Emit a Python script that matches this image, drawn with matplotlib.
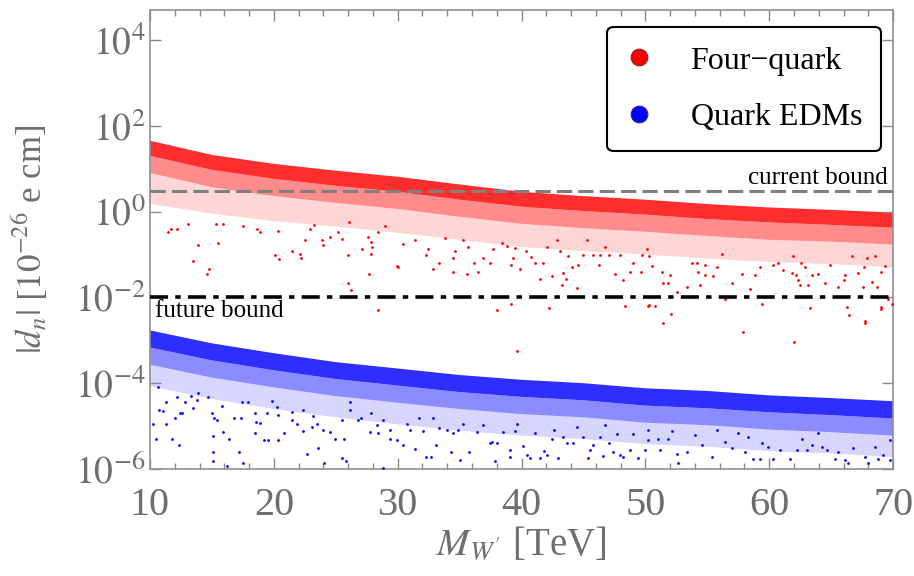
import matplotlib
matplotlib.use('Agg')
import matplotlib.pyplot as plt
from matplotlib.lines import Line2D

plt.rcParams['font.family'] = ['Liberation Serif', 'DejaVu Serif']
plt.rcParams['mathtext.fontset'] = 'stix'

# envelope of the dense part of each scan, read at these masses [TeV]
mass_grid = [10, 15, 20, 25, 30, 35, 40, 45, 50, 55, 60, 65, 70]

red_top = [45, 21, 13, 9, 6.5, 4.3, 2.9, 2.3, 1.9, 1.5, 1.25, 1.1, 0.95]
red_core_low = [20, 9.4, 5.8, 4.0, 2.9, 1.9, 1.3, 1.03, 0.85, 0.67, 0.56, 0.49, 0.42]
red_mid_low = [8, 3.7, 2.3, 1.6, 1.15, 0.76, 0.52, 0.41, 0.34, 0.27, 0.22, 0.2, 0.17]
red_outer_low = [1.5, 0.9, 0.6, 0.45, 0.32, 0.22, 0.15, 0.12, 0.1, 0.08, 0.067, 0.06, 0.05]

blue_top = [1.7e-3, 8.5e-4, 5e-4, 3.1e-4, 2.2e-4, 1.55e-4, 1.2e-4, 1.0e-4,
            7.6e-5, 6.6e-5, 5.2e-5, 4.5e-5, 3.8e-5]
blue_core_low = [6.8e-4, 3.4e-4, 2e-4, 1.25e-4, 8.8e-5, 6.2e-5, 4.8e-5, 4e-5,
                 3e-5, 2.6e-5, 2.1e-5, 1.8e-5, 1.5e-5]
blue_mid_low = [2.7e-4, 1.35e-4, 8e-5, 5e-5, 3.5e-5, 2.5e-5, 1.9e-5, 1.6e-5,
                1.2e-5, 1.05e-5, 8.3e-6, 7.2e-6, 6e-6]
blue_outer_low = [8.5e-5, 4.3e-5, 2.5e-5, 1.6e-5, 1.1e-5, 7.8e-6, 6e-6, 5e-6,
                  3.8e-6, 3.3e-6, 2.6e-6, 2.3e-6, 1.9e-6]

# sparse scan points below the dense bands (mass, |d_n|)
red_m = [11.48, 11.67, 12.15, 13.10, 13.50, 13.85, 14.58, 14.76, 15.52, 15.30, 15.87,
         17.54, 18.61, 18.88, 20.09, 20.31, 20.44, 21.44, 22.11, 22.17, 22.52, 22.92,
         23.27, 23.86, 24.00, 24.54, 25.21, 25.48, 26.02, 26.02, 26.20, 26.10, 27.15,
         27.63, 27.68, 27.85, 27.90, 27.82, 28.44, 28.98, 29.92, 30.05, 28.44,
         30.46, 31.40, 32.29, 32.48, 32.83, 33.37, 33.82, 34.50, 34.50, 34.63, 35.30,
         35.63, 35.71, 36.17, 36.52, 36.92, 37.46, 37.67, 37.99, 38.40, 38.80, 39.13,
         39.13, 39.34, 39.48, 39.88, 40.36, 40.74, 41.09, 41.50, 41.71, 42.03, 42.25,
         42.44, 42.84, 43.11, 43.24, 43.38, 43.57, 43.78, 44.11, 44.46, 44.59, 45.00,
         45.26, 45.75, 46.29, 46.34, 46.74, 47.09, 47.55, 47.96, 48.17, 48.76, 49.03,
         49.62, 49.70, 50.24, 48.36, 50.11,
         50.29, 50.56, 51.32, 51.45, 51.99, 52.07, 51.45, 51.85, 52.58, 53.33, 53.74,
         54.14, 54.28, 54.41, 54.82, 54.82, 55.49, 55.76, 56.22, 56.43, 57.02, 57.78,
         58.45, 58.85, 59.26, 59.39, 60.33, 60.74, 61.14, 61.81, 61.95, 62.14, 62.35,
         62.49, 62.57, 62.89, 63.16, 63.29, 63.43, 63.97, 64.51, 64.91, 65.53, 66.04,
         66.12, 66.26, 66.44, 66.66, 67.20, 67.60, 67.68, 67.74, 67.87, 68.27, 68.54,
         68.68, 69.00, 69.03, 69.35, 69.62, 69.94, 50.78, 50.29,
         39.6, 57.9, 62.0, 67.7, 69.05]
red_d = [0.33, 0.40, 0.40, 0.52, 0.072, 0.168, 0.035, 0.045, 0.19, 0.52, 0.52,
         0.46, 0.40, 0.33, 0.095, 0.36, 0.08, 0.12, 0.104, 0.082, 0.22, 0.40,
         0.49, 0.22, 0.168, 0.25, 0.33, 0.23, 0.095, 0.0215, 0.0146, 0.58, 0.135,
         0.25, 0.035, 0.20, 0.148, 0.104, 0.005, 0.46, 0.055, 0.05, 0.33,
         0.177, 0.223, 0.095, 0.135, 0.045, 0.064, 0.244, 0.040, 0.082, 0.12, 0.223,
         0.035, 0.153, 0.064, 0.040, 0.082, 0.064, 0.135, 0.005, 0.19, 0.162, 0.058,
         0.0071, 0.082, 0.14, 0.045, 0.12, 0.086, 0.064, 0.027, 0.064, 0.153, 0.0056,
         0.031, 0.22, 0.12, 0.019, 0.037, 0.027, 0.09, 0.05, 0.0168, 0.058, 0.095,
         0.223, 0.095, 0.058, 0.095, 0.153, 0.095, 0.035, 0.095, 0.025, 0.040, 0.064,
         0.040, 0.095, 0.0063, 0.0063, 0.135,
         0.091, 0.055, 0.040, 0.022, 0.034, 0.0040, 0.0025, 0.022, 0.0133, 0.0174, 0.064,
         0.064, 0.040, 0.019, 0.058, 0.0325, 0.031, 0.05, 0.104, 0.0093, 0.022, 0.035,
         0.016, 0.0325, 0.05, 0.0071, 0.058, 0.064, 0.0425, 0.038, 0.091, 0.0325, 0.025,
         0.019, 0.064, 0.05, 0.019, 0.0056, 0.0325, 0.035, 0.022, 0.058, 0.0174, 0.025,
         0.034, 0.006, 0.0038, 0.091, 0.037, 0.0174, 0.05, 0.0028, 0.082, 0.023, 0.091,
         0.0174, 0.040, 0.006, 0.055, 0.0093, 0.0071, 0.0062, 0.0066,
         5.5e-4, 1.6e-3, 8.9e-4, 2.6e-3, 5.5e-3]

blue_m = [10.67, 11.27, 10.75, 11.08, 10.48, 11.29, 11.80, 12.02, 12.37, 12.42, 12.56,
          12.15, 12.83, 13.28, 13.77, 13.90, 14.71, 14.98, 15.17, 15.38, 15.11, 15.11,
          15.11, 15.87, 15.79, 16.41, 16.25, 16.78, 17.16, 17.32, 17.54, 17.40, 17.94,
          18.48, 18.48, 18.56, 18.88, 19.23, 19.56, 19.42, 20.31, 20.36, 20.85, 21.44,
          21.84, 22.33, 22.65, 23.06, 23.19, 23.46, 23.59, 24.00, 24.05, 24.54, 24.94,
          25.48, 25.67, 25.48, 25.83, 26.15, 26.82, 27.01, 27.77, 27.82, 28.30, 28.44,
          28.79, 29.38, 29.92, 29.38, 28.84, 26.15, 22.38, 21.44, 20.23, 19.82, 13.50,
          10.27,
          30.46, 31.40, 31.00, 30.78, 31.75, 32.07, 32.29, 32.67, 32.88, 33.10, 33.37,
          33.96, 34.31, 34.44, 35.04, 34.90, 35.30, 35.76, 36.38, 36.92, 37.46, 37.86,
          38.00, 38.53, 39.07, 39.07, 39.48, 39.61, 40.10, 40.42, 40.69, 41.09, 41.50,
          41.82, 42.03, 42.44, 42.63, 42.98, 43.33, 43.65, 44.19, 44.46, 44.94, 45.40,
          45.53, 45.80, 46.34, 46.61, 46.74, 47.09, 47.42, 47.69, 47.96, 48.22, 48.76,
          49.03, 49.44, 49.97, 50.24, 37.59,
          50.24, 51.05, 51.18, 51.85, 52.12, 52.53, 52.66, 53.33, 54.01, 54.55, 55.35,
          56.43, 57.02, 58.05, 58.31, 58.72, 59.26, 59.39, 59.93, 60.33, 60.87, 61.68,
          62.22, 62.62, 63.03, 63.43, 64.24, 64.64, 65.31, 65.58, 66.12, 66.39, 66.79,
          67.74, 68.01, 68.81, 69.22, 69.75, 69.75, 68.54, 63.97, 57.51, 55.76]
blue_logd = [-4.10, -4.43, -4.63, -4.65, -5.29, -4.96, -5.29, -4.80, -5.44, -4.69, -4.70,
             -4.32, -4.43, -4.30, -4.40, -4.24, -4.32, -4.69, -4.82, -4.86, -5.23, -5.60,
             -5.81, -5.13, -4.53, -5.29, -5.92, -4.80, -5.60, -4.81, -5.87, -4.43, -4.45,
             -5.17, -4.70, -4.90, -4.92, -5.33, -5.33, -4.70, -5.33, -4.74, -5.17, -4.86,
             -4.95, -5.11, -5.65, -5.02, -4.77, -4.94, -5.50, -5.08, -5.87, -5.13, -5.29,
             -4.86, -5.29, -5.75, -5.81, -4.63, -4.86, -4.82, -5.13, -4.70, -4.98, -5.17,
             -5.98, -5.29, -5.33, -5.08, -4.86, -4.43, -4.63, -4.66, -4.55, -4.41, -4.59,
             -4.96,
             -5.44, -5.54, -5.08, -4.94, -4.82, -5.11, -5.71, -5.71, -4.82, -5.44, -5.05,
             -5.08, -5.60, -5.17, -5.79, -5.09, -4.94, -5.60, -5.13, -4.98, -5.39, -5.81,
             -5.39, -5.13, -5.71, -5.56, -5.11, -4.94, -5.47, -5.67, -5.75, -5.17, -5.75,
             -5.57, -5.67, -5.29, -5.09, -5.75, -5.26, -5.40, -5.39, -5.02, -5.26, -5.75,
             -5.56, -5.44, -5.26, -5.70, -4.98, -5.39, -5.60, -5.19, -5.67, -5.71, -5.56,
             -5.19, -5.75, -5.56, -5.09, -5.37,
             -5.33, -5.29, -5.56, -5.29, -5.11, -5.65, -5.87, -5.60, -5.21, -5.44, -5.71,
             -5.37, -5.52, -5.60, -5.25, -5.77, -5.76, -5.40, -5.48, -5.77, -5.56, -5.76,
             -5.56, -5.31, -5.56, -5.44, -5.48, -5.56, -5.76, -5.60, -5.79, -5.85, -5.52,
             -5.71, -5.87, -5.77, -5.67, -5.79, -5.33, -5.48, -5.17, -5.17, -5.09]

current_bound = 3.0
future_bound = 1e-2
x_ticks = [10, 20, 30, 40, 50, 60, 70]
y_ticks = [1e-6, 1e-4, 1e-2, 1e0, 1e2, 1e4]
y_ticklabels = [r'$10^{-6}$', r'$10^{-4}$', r'$10^{-2}$', r'$10^{0}$', r'$10^{2}$', r'$10^{4}$']

RED = '#ff0000'
BLUE = '#0000ff'
GRAY = '#6e6e6e'

fig = plt.figure(figsize=(9.14, 5.76), dpi=100)
ax = fig.add_axes([0.1641, 0.1858, 0.8130, 0.7968])
ax.set_yscale('log')

# dense bands, drawn as layers of decreasing density
for top, core, mid, outer, col in [(red_top, red_core_low, red_mid_low, red_outer_low, RED),
                                   (blue_top, blue_core_low, blue_mid_low, blue_outer_low, BLUE)]:
    ax.fill_between(mass_grid, outer, mid, facecolor=col, alpha=0.16, lw=0)
    ax.fill_between(mass_grid, mid, core, facecolor=col, alpha=0.45, lw=0)
    ax.fill_between(mass_grid, core, top, facecolor=col, alpha=0.82, lw=0)

# sparse points
ax.scatter(red_m, red_d, s=4, c=RED, linewidths=0, zorder=3)
ax.scatter(blue_m, [10 ** v for v in blue_logd], s=4, c=BLUE, linewidths=0, zorder=3)

# bounds
ax.axhline(current_bound, color='#808080', lw=2.2, ls=(0, (5, 2)), zorder=4)
ax.axhline(future_bound, color='black', lw=2.6, ls=(0, (5, 2, 1.5, 2)), zorder=4)
ax.text(69.6, current_bound * 1.12, 'current bound', ha='right', va='bottom', fontsize=18)
ax.text(10.4, future_bound / 1.15, 'future bound', ha='left', va='top', fontsize=18)

ax.set_xlim(10, 70)
ax.set_ylim(1e-6, 10 ** 4.7)
ax.set_xticks(x_ticks)
ax.set_xticklabels([str(v) for v in x_ticks])
ax.set_xticks(range(10, 71, 2), minor=True)
ax.set_yticks(y_ticks)
ax.set_yticklabels(y_ticklabels)
ax.yaxis.set_minor_locator(matplotlib.ticker.NullLocator())
ax.tick_params(which='both', direction='in', top=True, right=True, colors='#888888',
               labelcolor=GRAY)
ax.tick_params(axis='y', labelsize=27, pad=3)
ax.tick_params(axis='x', labelsize=29, pad=13)
ax.tick_params(which='major', length=8, width=1)
ax.tick_params(which='minor', length=4, width=1)
for sp in ax.spines.values():
    sp.set_color('#909090')
    sp.set_linewidth(1.2)

ax.set_xlabel(r"$M_{W^{\prime}}$ [TeV]", fontsize=28, color=GRAY, labelpad=2)
ax.set_ylabel(r'$|d_n|\ [10^{-26}$ e cm]', fontsize=25, color=GRAY)
ax.yaxis.set_label_coords(-0.135, 0.5)

handles = [Line2D([], [], ls='none', marker='o', ms=12, mfc=RED, mec='#7a2a2a', mew=0.8),
           Line2D([], [], ls='none', marker='o', ms=12, mfc=BLUE, mec='#2a2a7a', mew=0.8)]
leg = ax.legend(handles, ['Four\u2212quark', 'Quark EDMs'], loc='upper right',
                bbox_to_anchor=(0.984, 0.963), fontsize=23, frameon=True, fancybox=True,
                borderpad=0.6, labelspacing=0.85, handlelength=0.8, handletextpad=1.2,
                borderaxespad=0)
leg.get_frame().set_edgecolor('black')
leg.get_frame().set_linewidth(1.5)
leg.get_frame().set_alpha(1)

fig.savefig('out.png', dpi=100)
